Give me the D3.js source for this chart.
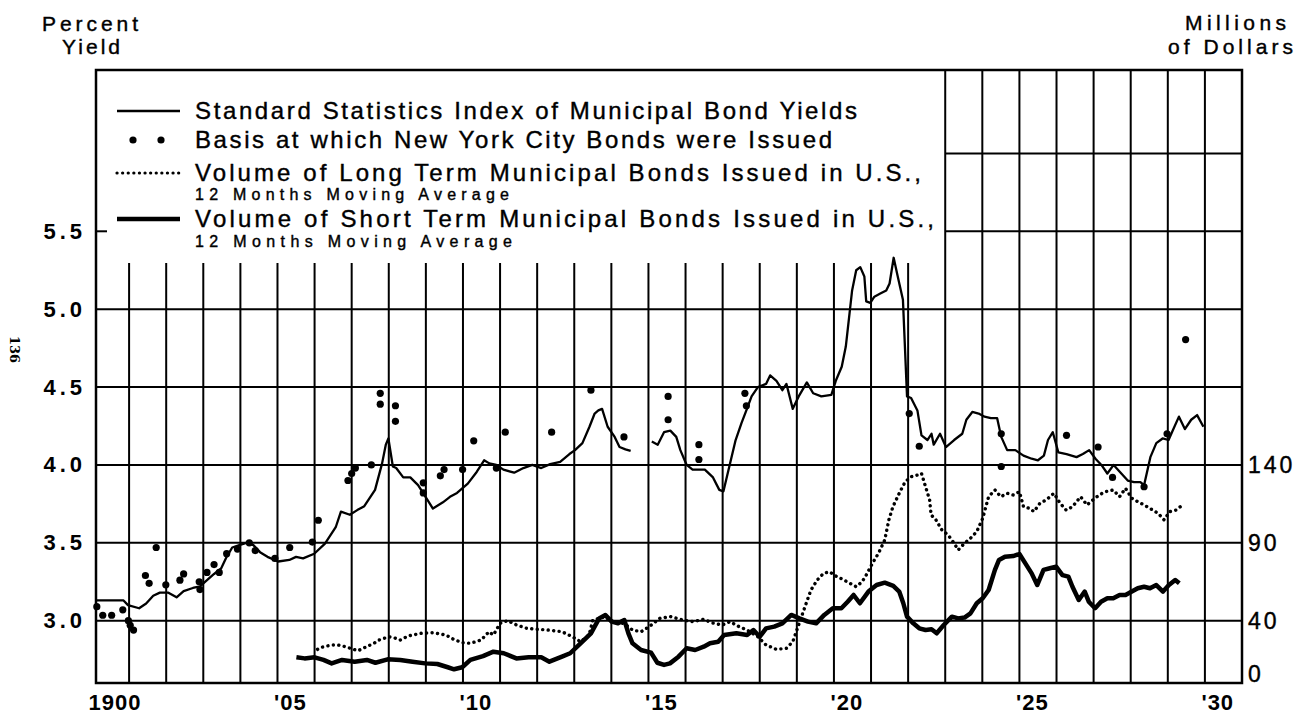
<!DOCTYPE html>
<html>
<head>
<meta charset="utf-8">
<script src="https://cdn.jsdelivr.net/npm/d3@7"></script>
<style>
  html, body { margin:0; padding:0; background:#fff; }
  svg { display:block; }
  text { fill:#000; font-family:"Liberation Sans", Arial, sans-serif; }
</style>
</head>
<body>
<div id="chart"></div>
<script>
var width = 1302, height = 716;

// Standard Statistics Index of Municipal Bond Yields (percent), two pieces with a gap in 1914
var yieldA = [[1900.1,3.13],[1900.3,3.13],[1900.5,3.13],[1900.85,3.13],[1900.97,3.10],[1901.27,3.08],[1901.46,3.11],[1901.65,3.16],[1901.83,3.18],[1902.06,3.18],[1902.28,3.15],[1902.47,3.19],[1902.72,3.21],[1902.91,3.22],[1903.1,3.26],[1903.29,3.30],[1903.48,3.335],[1903.63,3.41],[1903.78,3.47],[1903.97,3.485],[1904.16,3.50],[1904.35,3.485],[1904.53,3.44],[1904.73,3.41],[1905.02,3.38],[1905.32,3.39],[1905.5,3.41],[1905.69,3.40],[1905.99,3.43],[1906.28,3.495],[1906.57,3.60],[1906.71,3.70],[1906.95,3.68],[1907.15,3.71],[1907.34,3.735],[1907.63,3.84],[1907.82,4.01],[1907.92,4.13],[1907.99,4.17],[1908.11,3.99],[1908.2,3.98],[1908.39,3.92],[1908.58,3.92],[1908.79,3.87],[1909.03,3.78],[1909.19,3.72],[1909.46,3.76],[1909.65,3.795],[1909.84,3.82],[1910.13,3.88],[1910.37,3.955],[1910.57,4.03],[1910.71,4.01],[1910.9,4.00],[1911.09,3.97],[1911.38,3.95],[1911.63,3.98],[1911.87,4.00],[1912.11,3.98],[1912.35,4.005],[1912.62,4.02],[1912.87,4.07],[1913.02,4.095],[1913.22,4.14],[1913.41,4.245],[1913.55,4.33],[1913.65,4.35],[1913.75,4.36],[1913.9,4.245],[1914.09,4.18],[1914.22,4.115],[1914.38,4.10],[1914.52,4.09]];
var yieldB = [[1915.09,4.15],[1915.25,4.13],[1915.42,4.21],[1915.59,4.22],[1915.75,4.18],[1915.86,4.095],[1916.03,4.00],[1916.19,3.97],[1916.52,3.97],[1916.74,3.92],[1916.91,3.84],[1917.02,3.83],[1917.18,3.99],[1917.35,4.16],[1917.51,4.27],[1917.67,4.37],[1917.78,4.44],[1917.95,4.50],[1918.17,4.52],[1918.28,4.575],[1918.45,4.54],[1918.61,4.48],[1918.72,4.52],[1918.89,4.36],[1919.05,4.44],[1919.27,4.53],[1919.44,4.46],[1919.66,4.44],[1919.93,4.45],[1920.05,4.54],[1920.21,4.63],[1920.32,4.76],[1920.49,5.12],[1920.6,5.25],[1920.71,5.27],[1920.82,5.21],[1920.87,5.05],[1920.98,5.04],[1921.09,5.08],[1921.25,5.10],[1921.41,5.12],[1921.5,5.165],[1921.61,5.33],[1921.72,5.21],[1921.86,5.06],[1921.97,4.44],[1922.08,4.43],[1922.25,4.35],[1922.36,4.19],[1922.52,4.16],[1922.63,4.20],[1922.69,4.13],[1922.86,4.20],[1923.02,4.115],[1923.24,4.16],[1923.46,4.20],[1923.57,4.29],[1923.73,4.34],[1923.9,4.33],[1924.06,4.31],[1924.23,4.30],[1924.4,4.30],[1924.51,4.18],[1924.67,4.095],[1924.89,4.095],[1925.11,4.06],[1925.33,4.04],[1925.5,4.03],[1925.66,4.06],[1925.77,4.16],[1925.9,4.21],[1926.05,4.08],[1926.27,4.07],[1926.54,4.05],[1926.71,4.07],[1926.88,4.095],[1927.05,4.04],[1927.21,4.00],[1927.37,3.945],[1927.54,4.00],[1927.71,3.955],[1927.92,3.90],[1928.09,3.89],[1928.26,3.89],[1928.36,3.87],[1928.53,4.05],[1928.69,4.14],[1928.86,4.17],[1929.02,4.16],[1929.13,4.22],[1929.3,4.31],[1929.46,4.23],[1929.63,4.29],[1929.79,4.32],[1929.96,4.245]];

// Basis at which New York City bonds were issued (percent)
var nycBasis = [[1900.13,3.09],[1900.29,3.035],[1900.53,3.035],[1900.83,3.07],[1900.98,3.00],[1901.03,2.97],[1901.12,2.94],[1901.44,3.29],[1901.54,3.24],[1901.73,3.47],[1901.99,3.23],[1902.37,3.26],[1902.47,3.30],[1902.89,3.25],[1902.91,3.20],[1903.1,3.31],[1903.29,3.36],[1903.43,3.31],[1903.63,3.43],[1903.92,3.46],[1904.24,3.50],[1904.4,3.45],[1904.93,3.40],[1905.33,3.47],[1905.94,3.505],[1906.1,3.645],[1906.9,3.90],[1907.0,3.945],[1907.1,3.98],[1907.53,4.00],[1907.77,4.46],[1907.77,4.39],[1908.18,4.38],[1908.18,4.28],[1908.93,3.885],[1908.93,3.82],[1909.39,3.93],[1909.49,3.97],[1909.99,3.97],[1910.29,4.155],[1910.9,3.98],[1911.14,4.21],[1912.39,4.21],[1913.45,4.48],[1914.34,4.18],[1915.53,4.44],[1915.53,4.29],[1916.36,4.13],[1916.36,4.035],[1917.6,4.46],[1917.64,4.38],[1922.03,4.33],[1922.3,4.12],[1924.51,4.20],[1924.51,3.99],[1926.27,4.19],[1927.12,4.115],[1927.51,3.92],[1928.36,3.86],[1928.98,4.20],[1929.48,4.805]];

// Long term municipal bonds issued, 12 months moving average (millions)
var longTerm = [[1906.08,21.6],[1906.2,23],[1906.46,24.4],[1906.63,24.4],[1906.83,23.3],[1907.0,22],[1907.17,20.7],[1907.4,23.3],[1907.6,25.5],[1907.74,27.6],[1908.0,29.7],[1908.15,29],[1908.31,27.6],[1908.52,30.2],[1908.87,31.9],[1909.2,32.3],[1909.54,30.8],[1909.75,28.0],[1909.98,25.9],[1910.2,25.5],[1910.49,27.6],[1910.7,32.9],[1910.82,30.8],[1911.0,38.3],[1911.2,40],[1911.45,37.2],[1911.72,35.1],[1912.0,34.5],[1912.3,34.0],[1912.67,32.9],[1912.95,29.7],[1913.17,26.5],[1913.4,30.8],[1913.5,40.4],[1913.67,41.5],[1913.84,42.6],[1914.0,39.4],[1914.2,39.4],[1914.4,37.2],[1914.57,34.0],[1914.8,32.9],[1915.02,36.2],[1915.31,41.5],[1915.6,42.6],[1915.93,40.4],[1916.2,39.4],[1916.49,40.9],[1916.7,38.7],[1916.99,37.2],[1917.2,39.4],[1917.44,36.2],[1917.66,34.0],[1917.95,29.7],[1918.17,24.4],[1918.45,21.6],[1918.72,22.3],[1918.89,26.5],[1919.0,34.0],[1919.11,41.5],[1919.22,49.0],[1919.38,59.7],[1919.55,66.1],[1919.72,70.4],[1919.88,71.4],[1920.05,68.7],[1920.27,66.1],[1920.43,64.0],[1920.6,61.8],[1920.76,65.0],[1920.87,69.3],[1921.04,76.9],[1921.2,83.3],[1921.37,91.8],[1921.48,104.7],[1921.59,113.2],[1921.76,121.8],[1921.92,129.2],[1922.09,132.5],[1922.25,133.5],[1922.36,134.6],[1922.47,126.0],[1922.58,117.5],[1922.62,107.9],[1922.75,104.7],[1922.91,98.2],[1923.08,95.0],[1923.24,89.7],[1923.35,85.4],[1923.52,89.7],[1923.68,92.9],[1923.85,97.2],[1924.01,105.7],[1924.17,119.6],[1924.34,123.9],[1924.5,119.6],[1924.67,121.8],[1924.83,120.7],[1925.0,122.8],[1925.11,113.2],[1925.28,112.1],[1925.39,110.0],[1925.55,115.3],[1925.72,117.5],[1925.93,121.8],[1926.1,115.3],[1926.26,111.0],[1926.43,113.2],[1926.65,119.6],[1926.82,114.3],[1926.98,117.5],[1927.15,120.7],[1927.31,122.8],[1927.53,123.9],[1927.7,119.6],[1927.86,125.0],[1928.03,118.6],[1928.19,116.4],[1928.36,114.3],[1928.52,112.1],[1928.74,108.9],[1928.9,104.7],[1929.05,110.0],[1929.22,111.0],[1929.36,113.6]];

// Short term municipal bonds issued, 12 months moving average (millions)
var shortTerm = [[1905.51,16.5],[1905.73,15.8],[1906.0,16.5],[1906.24,14.8],[1906.46,12.6],[1906.74,14.8],[1907.08,13.7],[1907.41,14.8],[1907.64,13.0],[1907.97,15.2],[1908.31,14.8],[1908.64,13.7],[1908.98,12.6],[1909.31,12.2],[1909.59,10.1],[1909.76,8.8],[1909.98,10.1],[1910.2,14.8],[1910.54,17.3],[1910.82,20.1],[1911.1,19.1],[1911.44,15.8],[1911.77,16.5],[1912.11,16.5],[1912.33,13.7],[1912.67,16.9],[1912.89,19.1],[1913.17,25.5],[1913.45,31.9],[1913.67,41.5],[1913.84,43.7],[1914.01,39.4],[1914.18,38.3],[1914.35,40.4],[1914.46,31.9],[1914.57,25.5],[1914.8,21.2],[1915.07,19.5],[1915.24,13.0],[1915.42,11.6],[1915.58,12.6],[1915.81,16.9],[1916.03,22.3],[1916.26,21.2],[1916.49,23.3],[1916.66,25.5],[1916.88,26.5],[1917.04,30.8],[1917.37,31.9],[1917.66,30.8],[1917.83,34.0],[1918.0,29.7],[1918.17,35.1],[1918.39,36.2],[1918.61,38.3],[1918.85,43.7],[1919.07,41.5],[1919.3,39.4],[1919.52,38.3],[1919.74,43.7],[1919.97,48.0],[1920.2,48.0],[1920.37,52.2],[1920.53,56.5],[1920.7,51.2],[1920.93,58.7],[1921.15,62.9],[1921.37,64.4],[1921.6,62.3],[1921.76,58.7],[1921.87,51.2],[1921.97,42.6],[1922.14,38.3],[1922.3,35.1],[1922.47,34.0],[1922.63,34.5],[1922.77,31.9],[1922.96,37.2],[1923.18,42.6],[1923.35,41.5],[1923.52,42.0],[1923.68,44.7],[1923.85,51.2],[1924.01,54.4],[1924.17,59.7],[1924.34,72.6],[1924.45,79.0],[1924.61,81.1],[1924.83,81.5],[1925.0,82.8],[1925.16,76.8],[1925.33,70.4],[1925.48,62.9],[1925.65,72.6],[1925.82,73.7],[1925.99,74.7],[1926.16,69.3],[1926.32,68.3],[1926.43,61.8],[1926.6,53.3],[1926.76,58.7],[1926.87,52.2],[1927.04,48.0],[1927.2,52.2],[1927.37,54.4],[1927.53,54.4],[1927.7,56.5],[1927.86,56.5],[1928.03,58.7],[1928.19,60.8],[1928.36,61.8],[1928.52,60.8],[1928.69,62.9],[1928.87,58.7],[1929.03,62.9],[1929.2,66.1],[1929.31,64.0]];

var yearTicks = [1900, 1905, 1910, 1915, 1920, 1925, 1930];
var yieldTicks = [3.0, 3.5, 4.0, 4.5, 5.0, 5.5];
var millionTicks = [0, 40, 90, 140];
var legendLabels = [
  "Standard Statistics Index of Municipal Bond Yields",
  "Basis at which New York City Bonds were Issued",
  "Volume of Long Term Municipal Bonds Issued in U.S.,",
  "Volume of Short Term Municipal Bonds Issued in U.S.,"
];
var subLabel = "12 Months Moving Average";

var x = d3.scaleLinear().domain([1900, 1931]).range([92, 1242]);
var yYield = d3.scaleLinear().domain([2.6, 6.54]).range([683, 69.3]);
var yMil = d3.scaleLinear().domain([0, 394]).range([683, 69.3]);

var plotLeft = 96, plotRight = x(1931), plotTop = 70, plotBottom = 683;
var legendBottom = 263;

var svg = d3.select('#chart').append('svg')
  .attr('width', width).attr('height', height);

// vertical grid lines, one per year
var years = d3.range(1901, 1931);
svg.append('g').selectAll('line')
  .data(years).enter().append('line')
  .attr('x1', function(d){ return x(d); })
  .attr('x2', function(d){ return x(d); })
  .attr('y1', function(d){ return d >= 1923 ? plotTop : legendBottom; })
  .attr('y2', plotBottom)
  .attr('stroke', '#000').attr('stroke-width', 2);

// horizontal grid lines
svg.append('g').selectAll('line')
  .data([3.0, 3.5, 4.0, 4.5, 5.0]).enter().append('line')
  .attr('x1', plotLeft).attr('x2', plotRight)
  .attr('y1', function(d){ return yYield(d); })
  .attr('y2', function(d){ return yYield(d); })
  .attr('stroke', '#000').attr('stroke-width', 2);

svg.append('g').selectAll('line')
  .data([5.5, 6.0]).enter().append('line')
  .attr('x1', x(1923)).attr('x2', plotRight)
  .attr('y1', function(d){ return yYield(d); })
  .attr('y2', function(d){ return yYield(d); })
  .attr('stroke', '#000').attr('stroke-width', 2);

// short tick at 5.5 inside the legend area
svg.append('line')
  .attr('x1', plotLeft).attr('x2', plotLeft + 11)
  .attr('y1', yYield(5.5)).attr('y2', yYield(5.5))
  .attr('stroke', '#000').attr('stroke-width', 2);

// frame
svg.append('rect')
  .attr('x', plotLeft).attr('y', plotTop)
  .attr('width', plotRight - plotLeft).attr('height', plotBottom - plotTop)
  .attr('fill', 'none').attr('stroke', '#000').attr('stroke-width', 2.5);

// data
var lineYield = d3.line()
  .x(function(d){ return x(d[0]); })
  .y(function(d){ return yYield(d[1]); });
var lineMil = d3.line()
  .x(function(d){ return x(d[0]); })
  .y(function(d){ return yMil(d[1]); });

svg.append('path').datum(longTerm)
  .attr('d', lineMil)
  .attr('fill', 'none').attr('stroke', '#000')
  .attr('stroke-width', 3.4).attr('stroke-linecap', 'round')
  .attr('stroke-dasharray', '0.1,5.4');

svg.append('path').datum(shortTerm)
  .attr('d', lineMil)
  .attr('fill', 'none').attr('stroke', '#000')
  .attr('stroke-width', 4.5).attr('stroke-linejoin', 'round');

[yieldA, yieldB].forEach(function(seg){
  svg.append('path').datum(seg)
    .attr('d', lineYield)
    .attr('fill', 'none').attr('stroke', '#000')
    .attr('stroke-width', 2.3).attr('stroke-linejoin', 'round');
});

svg.append('g').selectAll('circle')
  .data(nycBasis).enter().append('circle')
  .attr('cx', function(d){ return x(d[0]); })
  .attr('cy', function(d){ return yYield(d[1]); })
  .attr('r', 3.6).attr('fill', '#000');

// axes
var xAxis = d3.axisBottom(x).tickValues(yearTicks).tickSize(0)
  .tickFormat(function(d){ return d === 1900 ? '1900' : "'" + String(d).slice(2); });
var gx = svg.append('g').attr('transform', 'translate(0,' + plotBottom + ')').call(xAxis);
gx.select('.domain').remove();
gx.selectAll('text')
  .attr('text-anchor', 'start')
  .attr('dx', -4)
  .attr('y', 27)
  .attr('dy', 0)
  .style('font-size', '22px').style('font-weight', 'bold')
  .style('letter-spacing', '1px')
  .style('font-family', '"Liberation Sans", Arial, sans-serif');

var yAxisL = d3.axisLeft(yYield).tickValues(yieldTicks).tickSize(0)
  .tickFormat(d3.format('.1f'));
var gyl = svg.append('g').attr('transform', 'translate(' + (plotLeft - 10) + ',0)').call(yAxisL);
gyl.select('.domain').remove();
gyl.selectAll('text')
  .attr('x', 0)
  .style('font-size', '22px').style('font-weight', 'bold')
  .style('letter-spacing', '4px')
  .style('font-family', '"Liberation Sans", Arial, sans-serif');

var yAxisR = d3.axisRight(yMil).tickValues(millionTicks).tickSize(0);
var gyr = svg.append('g').attr('transform', 'translate(' + (plotRight + 6) + ',0)').call(yAxisR);
gyr.select('.domain').remove();
gyr.selectAll('text')
  .attr('x', 0)
  .attr('dy', function(d){ return d === 0 ? '-0.05em' : '0.32em'; })
  .style('font-size', '23px')
  .style('letter-spacing', '3px')
  .style('stroke', '#000').style('stroke-width', '0.4px')
  .style('font-family', '"Liberation Sans", Arial, sans-serif');

// titles and legend text
function label(t, xx, yy, size, len, anchor) {
  var el = svg.append('text').attr('x', xx).attr('y', yy)
    .style('font-size', size + 'px')
    .style('stroke', '#000').style('stroke-width', '0.4px')
    .attr('text-anchor', anchor || 'start')
    .text(t);
  if (len) el.attr('textLength', len).attr('lengthAdjust', 'spacing');
  return el;
}
label('Percent', 42, 31, 21, 96);
label('Yield', 62, 54, 21, 58);
label('Millions', 1185, 30, 21, 101);
label('of Dollars', 1168, 54, 21, 125);

svg.append('text')
  .attr('transform', 'translate(10,336) rotate(90)')
  .style('font-family', '"DejaVu Serif", serif')
  .style('font-size', '13px').style('font-weight', 'bold')
  .text('136');

// legend
var lx1 = 117, lx2 = 180, tx = 195;
var rowY = [111, 140, 173, 219];
var rowLen = [662, 637, 726, 739];
legendLabels.forEach(function(t, i){
  label(t, tx, rowY[i] + 8, 24, rowLen[i]);
});
label(subLabel, tx, 200, 16, 314);
label(subLabel, tx, 247, 16, 317);

svg.append('line').attr('x1', lx1).attr('x2', lx2)
  .attr('y1', rowY[0]).attr('y2', rowY[0])
  .attr('stroke', '#000').attr('stroke-width', 2.3);
svg.append('g').selectAll('circle').data([133, 161]).enter().append('circle')
  .attr('cx', function(d){ return d; }).attr('cy', rowY[1])
  .attr('r', 3.6).attr('fill', '#000');
svg.append('line').attr('x1', lx1).attr('x2', lx2)
  .attr('y1', rowY[2]).attr('y2', rowY[2])
  .attr('stroke', '#000').attr('stroke-width', 3.2)
  .attr('stroke-linecap', 'round').attr('stroke-dasharray', '0.1,5.5');
svg.append('line').attr('x1', lx1).attr('x2', lx2)
  .attr('y1', rowY[3]).attr('y2', rowY[3])
  .attr('stroke', '#000').attr('stroke-width', 4.5);
</script>
</body>
</html>
